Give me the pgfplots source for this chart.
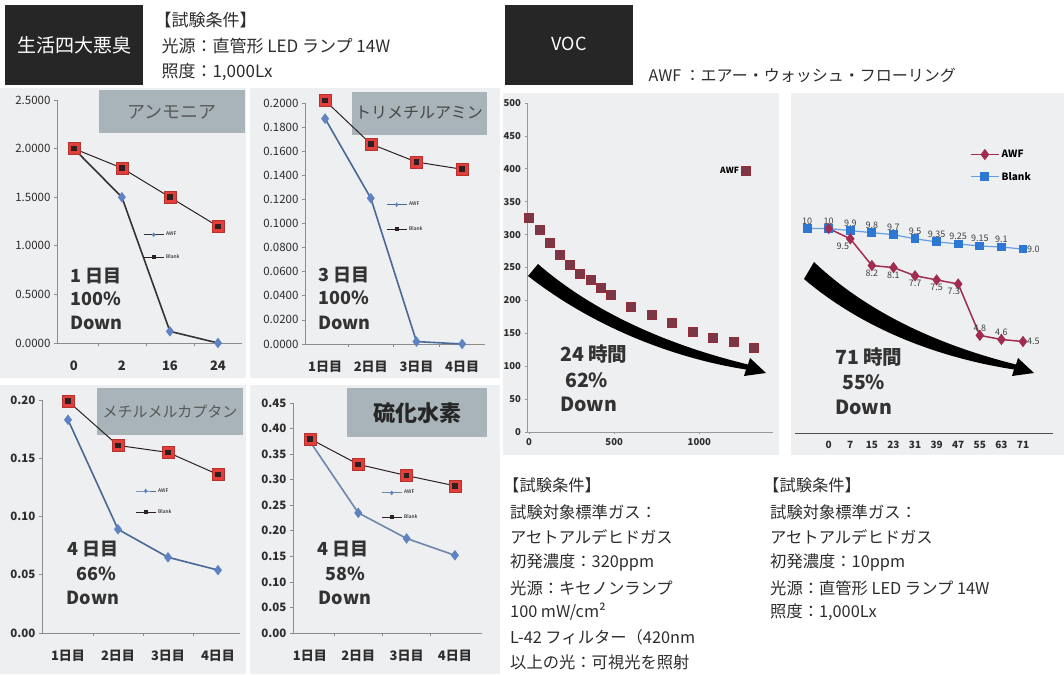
\documentclass[border=0pt]{standalone}
\usepackage{pgfplots}
\pgfplotsset{compat=1.18}
\usepackage{fontspec}
\setmainfont{Noto Sans CJK JP}
\newcommand{\fs}[1]{\fontsize{#1}{#1}\selectfont}
\definecolor{panel}{RGB}{238,239,241}
\definecolor{tbox}{RGB}{168,180,185}
\definecolor{hdr}{RGB}{38,38,38}
\definecolor{awfline}{RGB}{74,104,150}
\definecolor{awfmark}{RGB}{95,130,195}
\definecolor{blkred}{RGB}{226,62,58}
\definecolor{blkdark}{RGB}{45,32,34}
\definecolor{vocm}{RGB}{122,56,70}
\definecolor{awfr}{RGB}{160,45,80}
\definecolor{blankb}{RGB}{45,120,210}
\definecolor{blankl}{RGB}{100,160,225}
\definecolor{txt}{RGB}{45,45,45}
\pgfplotsset{
  smallax/.style={
    scale only axis, clip=false, anchor=south west,
    axis lines=left, axis line style={-, draw=black!45, line width=0.8pt},
    tick style={draw=black!45, line width=0.6pt},
    tick align=outside, major tick length=3pt, minor tick length=3pt,
    xtick={0,1,2,3}, major x tick style={draw=none},
    minor xtick={0.5,1.5,2.5},
    ymin=0,
    y tick label style={font=\fs{11.5}, text=txt},
    xticklabel style={font=\bfseries\fs{13}, text=txt, yshift=-11pt},
    /pgf/number format/assume math mode=true,
    scaled y ticks=false,
    legend style={draw=none, fill=none, font=\fs{5}, anchor=north west, inner sep=0pt, legend cell align=left},
    legend image code/.code={\draw[mark repeat=2,mark phase=2,##1,mark size=1.6pt,line width=0.9pt] plot coordinates {(0pt,0pt)(10pt,0pt)(20pt,0pt)};},
  },
  awf/.style={color=awfline, line width=1.6pt, mark=diamond*, mark size=4pt, mark options={fill=awfmark, draw=awfmark}},
  blankred/.style={only marks, mark=square*, mark size=6pt, mark options={fill=blkred, draw=blkred!80!black, line width=0.5pt}},
  blankline/.style={color=blkdark, line width=1pt, mark=square*, mark size=2.3pt, mark options={fill=blkdark}},
}
\begin{document}
\begin{tikzpicture}
\path[use as bounding box] (0pt,0pt) rectangle (1064pt,674pt);
\begin{scope}[x=1pt,y=1pt,shift={(0pt,674pt)},yscale=-1]
  % panels
  \fill[panel] (0,88) rectangle (246,378);
  \fill[panel] (250,88) rectangle (500,378);
  \fill[panel] (0,385) rectangle (246,674);
  \fill[panel] (250,385) rectangle (500,674);
  \fill[panel] (503,93) rectangle (779,455);
  \fill[panel] (791,93) rectangle (1064,455);
  % title boxes
  \fill[tbox] (99,90) rectangle (245,133);
  \node[font=\fs{18}, text=black!65] at (172,112) {アンモニア};
  \fill[tbox] (352,92) rectangle (487,135);
  \node[font=\fs{16}, text=black!72] at (419,113) {トリメチルアミン};
  \fill[tbox] (97,388) rectangle (243,435);
  \node[font=\fs{15}, text=black!65] at (170,412) {メチルメルカプタン};
  \fill[tbox] (347,388) rectangle (487,437);
  \node[font=\bfseries\fs{22}, text=black!85] at (417,413) {硫化水素};
  % headers
  \fill[hdr] (5,5) rectangle (143,85);
  \node[text=white, font=\fs{19}] at (74,45) {生活四大悪臭};
  \node[anchor=west, font=\fs{17}, text=txt] at (151,20) {【試験条件】};
  \node[anchor=west, font=\fs{17}, text=txt] at (158,46) {光源：直管形 LED ランプ 14W};
  \node[anchor=west, font=\fs{17}, text=txt] at (158,72) {照度：1,000Lx};
  \fill[hdr] (505,5) rectangle (633,85);
  \node[text=white, font=\fs{18}] at (569,44) {VOC};
  \node[anchor=west, font=\fs{16}, text=txt] at (645,75) {AWF ：エアー・ウォッシュ・フローリング};
  % bottom texts
  \begin{scope}[every node/.style={anchor=west, font=\fs{16.3}, text=txt, inner sep=0pt}]
    \node at (503,485) {【試験条件】};
    \node at (510,512) {試験対象標準ガス：};
    \node at (510,537) {アセトアルデヒドガス};
    \node at (510,563) {初発濃度：320ppm};
    \node at (510,588) {光源：キセノンランプ};
    \node at (510,612) {100 mW/cm²};
    \node at (510,637) {L-42 フィルター（420nm};
    \node at (510,662) {以上の光：可視光を照射};
    \node at (763,485) {【試験条件】};
    \node at (770,512) {試験対象標準ガス：};
    \node at (770,537) {アセトアルデヒドガス};
    \node at (770,563) {初発濃度：10ppm};
    \node at (770,588) {光源：直管形 LED ランプ 14W};
    \node at (770,612) {照度：1,000Lx};
  \end{scope}
\end{scope}

% ---------- Ammonia
\begin{axis}[smallax, at={(57pt,331pt)}, width=185pt, height=243pt,
  xmin=-0.35, xmax=3.5, ymax=2.5, ytick={0,0.5,1,1.5,2,2.5},
  xticklabels={0,2,16,24},
  yticklabel style={/pgf/number format/.cd,fixed,fixed zerofill,precision=4},
  legend style={at={(0.465,0.465)}, row sep=13pt}]
\addplot[awf, color=black!80] coordinates {(0,2.0)(1,1.5)(2,0.12)(3,0.0)};
\addlegendentry{AWF}
\addplot[blankred, forget plot] coordinates {(0,2.0)(1,1.8)(2,1.5)(3,1.2)};
\addplot[blankline] coordinates {(0,2.0)(1,1.8)(2,1.5)(3,1.2)};
\addlegendentry{Blank}
\end{axis}

% ---------- Trimethylamine
\begin{axis}[smallax, at={(305pt,330pt)}, width=180pt, height=241pt,
  xmin=-0.44, xmax=3.5, ymax=0.2,
  ytick={0,0.02,0.04,0.06,0.08,0.1,0.12,0.14,0.16,0.18,0.2},
  xticklabels={1日目,2日目,3日目,4日目},
  yticklabel style={/pgf/number format/.cd,fixed,fixed zerofill,precision=4},
  legend style={at={(0.45,0.598)}, row sep=15pt}]
\addplot[awf] coordinates {(0,0.187)(1,0.121)(2,0.002)(3,0.0)};
\addlegendentry{AWF}
\addplot[blankred, forget plot] coordinates {(0,0.202)(1,0.166)(2,0.151)(3,0.145)};
\addplot[blankline] coordinates {(0,0.202)(1,0.166)(2,0.151)(3,0.145)};
\addlegendentry{Blank}
\end{axis}

% ---------- Methyl mercaptan
\begin{axis}[smallax, at={(42pt,41pt)}, width=198pt, height=233pt,
  xmin=-0.52, xmax=3.44, ymax=0.2,
  ytick={0,0.05,0.1,0.15,0.2},
  xticklabels={1日目,2日目,3日目,4日目},
  y tick label style={font=\bfseries\fs{11.5}},
  yticklabel style={/pgf/number format/.cd,fixed,fixed zerofill,precision=2},
  legend style={at={(0.47,0.63)}, row sep=12pt}]
\addplot[awf] coordinates {(0,0.183)(1,0.089)(2,0.065)(3,0.054)};
\addlegendentry{AWF}
\addplot[blankred, forget plot] coordinates {(0,0.199)(1,0.161)(2,0.155)(3,0.136)};
\addplot[blankline] coordinates {(0,0.199)(1,0.161)(2,0.155)(3,0.136)};
\addlegendentry{Blank}
\end{axis}

% ---------- Hydrogen sulfide
\begin{axis}[smallax, at={(293pt,41pt)}, width=189pt, height=230pt,
  xmin=-0.35, xmax=3.56, ymax=0.45,
  ytick={0,0.05,0.1,0.15,0.2,0.25,0.3,0.35,0.4,0.45},
  xticklabels={1日目,2日目,3日目,4日目},
  y tick label style={font=\bfseries\fs{11.5}},
  yticklabel style={/pgf/number format/.cd,fixed,fixed zerofill,precision=2},
  legend style={at={(0.466,0.63)}, row sep=15pt}]
\addplot[awf, color=awfline!80!white] coordinates {(0,0.375)(1,0.235)(2,0.185)(3,0.152)};
\addlegendentry{AWF}
\addplot[blankred, forget plot] coordinates {(0,0.38)(1,0.33)(2,0.308)(3,0.288)};
\addplot[blankline] coordinates {(0,0.38)(1,0.33)(2,0.308)(3,0.288)};
\addlegendentry{Blank}
\end{axis}

% ---------- VOC left
\begin{axis}[scale only axis, clip=false, anchor=south west, at={(527pt,242pt)},
  width=246pt, height=329pt, xmin=-12, xmax=1433, ymin=0, ymax=500,
  ytick={0,50,100,150,200,250,300,350,400,450,500}, xtick={0,500,1000},
  axis lines=left, axis line style={-, draw=black!40, line width=0.8pt},
  tick style={draw=black!40, line width=0.6pt}, tick align=outside, major tick length=2.5pt,
  tick label style={font=\bfseries\fs{9.5}, text=txt},
  /pgf/number format/assume math mode=true,
  /pgf/number format/1000 sep={},
  legend style={at={(0.907,0.793)}, anchor=east, draw=none, fill=none, font=\bfseries\fs{8.5}, inner sep=0pt},
  legend plot pos=right]
\addplot[only marks, mark=square*, mark size=4.5pt, mark options={fill=vocm, draw=vocm!80!red}] coordinates {
(0,325)(60,307)(120,287)(180,269)(240,255)(300,240)(360,231)(420,219)(480,208)
(600,191)(720,179)(840,166)(960,153)(1080,143)(1200,137)(1320,128)};
\addlegendentry{AWF}
\end{axis}

% ---------- VOC right
\begin{axis}[scale only axis, clip=false, anchor=south west, at={(795pt,240pt)},
  width=258pt, height=339pt, xmin=-0.56, xmax=11.39, ymin=0, ymax=16.5,
  axis x line=bottom, axis y line=none, axis line style={-, draw=black!70, line width=1pt},
  xtick={1,2,3,4,5,6,7,8,9,10}, xticklabels={0,7,15,23,31,39,47,55,63,71}, ytick=\empty,
  major tick length=0pt, tick label style={font=\bfseries\fs{10}, text=txt},
  xticklabel style={yshift=-4pt},
  legend style={at={(0.678,0.844)}, anchor=north west, draw=none, fill=none, font=\bfseries\fs{10}, row sep=9pt, inner sep=0pt, legend cell align=left},
  legend image code/.code={\draw[mark repeat=2,mark phase=2,#1] plot coordinates {(0pt,0pt)(14pt,0pt)(28pt,0pt)};},
  reverse legend]
\addplot[color=blankl, line width=1.2pt, mark=square*, mark size=3.8pt, mark options={fill=blankb, draw=blankb}] coordinates {(0,10)(1,10)(2,9.9)(3,9.8)(4,9.7)(5,9.5)(6,9.35)(7,9.25)(8,9.15)(9,9.1)(10,9.0)};
\addlegendentry{Blank}
\addplot[color=awfr, line width=1.5pt, mark=diamond*, mark size=4.5pt, mark options={fill=awfr}] coordinates {(1,10)(2,9.5)(3,8.2)(4,8.1)(5,7.7)(6,7.5)(7,7.3)(8,4.8)(9,4.6)(10,4.5)};
\addlegendentry{AWF}
\addplot[forget plot, draw=none, mark=none, nodes near coords, point meta=explicit symbolic,
  visualization depends on={value \thisrow{a}\as\myanc},
  every node near coord/.append style={anchor=\myanc, font=\fs{9}, text=black!75, inner sep=4pt}]
  table[x=x,y=y,meta=l] {
x y l a
0 10 10 270
1 10 10 270
2 9.9 9.9 270
3 9.8 9.8 270
4 9.7 9.7 270
5 9.5 9.5 270
6 9.35 9.35 270
7 9.25 9.25 270
8 9.15 9.15 270
9 9.1 9.1 270
10 9.0 9.0 180
2 9.5 9.5 45
3 8.2 8.2 90
4 8.1 8.1 90
5 7.7 7.7 90
6 7.5 7.5 90
7 7.3 7.3 60
8 4.8 4.8 270
9 4.6 4.6 270
10 4.5 4.5 180
};
\end{axis}

% ---------- annotations and arrows
\begin{scope}[x=1pt,y=1pt,shift={(0pt,674pt)},yscale=-1]
  \fill[black] (538,264) .. controls (600,318) and (680,348) .. (748,364.5) -- (750,358) -- (766,373) -- (744,376) -- (746,369.5) .. controls (672,358) and (592,326) .. (528,276) -- cycle;
  \fill[black, shift={(268,0)}] (546,262) .. controls (605,318) and (682,348) .. (748,364.5) -- (750,358) -- (766,373) -- (744,376) -- (746,369.5) .. controls (672,358) and (596,330) .. (536,279) -- cycle;
  \begin{scope}[every node/.style={font=\bfseries\fs{18}, text=black!80, inner sep=0pt}]
    \node[anchor=base west] at (70,283) {1 日目};
    \node[anchor=base west] at (70,306) {100\%};
    \node[anchor=base west] at (70,330) {Down};
    \node[anchor=base west] at (318,282) {3 日目};
    \node[anchor=base west] at (318,305) {100\%};
    \node[anchor=base west] at (318,330) {Down};
    \node[anchor=base] at (93,556) {4 日目};
    \node[anchor=base] at (96,581) {66\%};
    \node[anchor=base] at (93,604) {Down};
    \node[anchor=base] at (343,556) {4 日目};
    \node[anchor=base] at (345,581) {58\%};
    \node[anchor=base] at (345,604) {Down};
  \end{scope}
  \begin{scope}[every node/.style={font=\bfseries\fs{19.5}, text=black!80, inner sep=0pt}]
    \node[anchor=base west] at (560,362) {24 時間};
    \node[anchor=base west] at (565,388) {62\%};
    \node[anchor=base west] at (560,412) {Down};
    \node[anchor=base west] at (835,365) {71 時間};
    \node[anchor=base west] at (842,390) {55\%};
    \node[anchor=base west] at (835,415) {Down};
  \end{scope}
\end{scope}
\end{tikzpicture}
\end{document}
